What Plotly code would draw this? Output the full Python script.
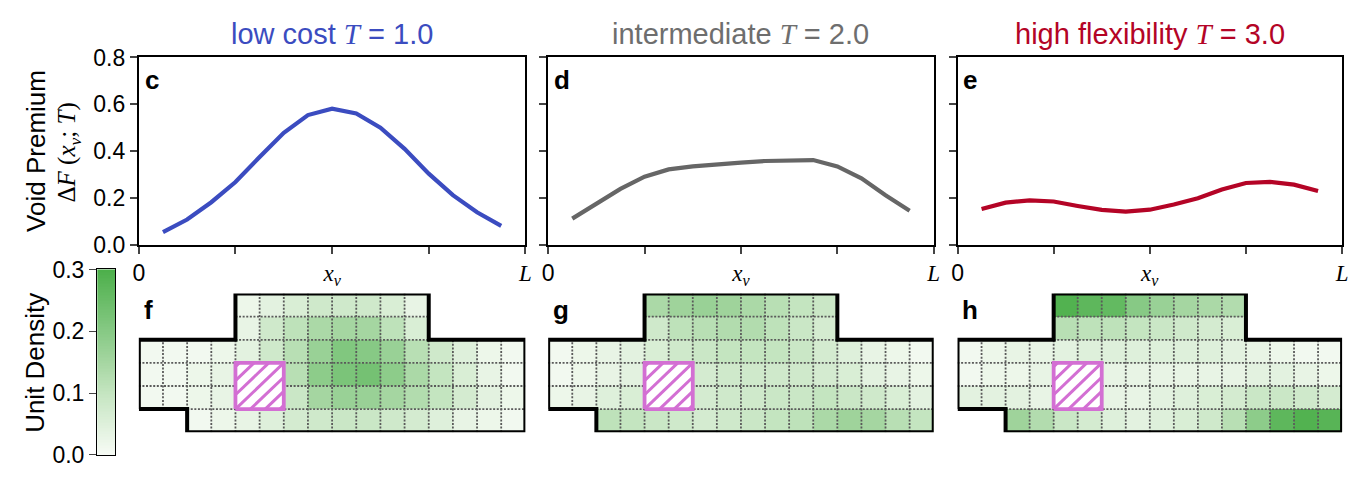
import numpy as np
import plotly.graph_objects as go

W, H = 1358, 484

# ---------------- data ----------------
x_void = [k / 16 for k in range(1, 16)]
premium_low = [0.054, 0.108, 0.182, 0.268, 0.375, 0.478, 0.554, 0.581, 0.561, 0.500, 0.410, 0.304, 0.212, 0.139, 0.081]
premium_mid = [0.112, 0.176, 0.239, 0.291, 0.322, 0.335, 0.345, 0.351, 0.358, 0.362, 0.362, 0.335, 0.284, 0.212, 0.146]
premium_high = [0.153, 0.180, 0.190, 0.185, 0.166, 0.149, 0.142, 0.150, 0.172, 0.199, 0.236, 0.264, 0.269, 0.257, 0.230]

SERIF = "Liberation Serif, DejaVu Serif, serif"
titles = [f"low cost <span style='font-family:{SERIF}'><i>T</i></span> = 1.0",
          f"intermediate <span style='font-family:{SERIF}'><i>T</i></span> = 2.0",
          f"high flexibility <span style='font-family:{SERIF}'><i>T</i></span> = 3.0"]
title_colors = ["#3b4cc0", "#6e6e6e", "#b40426"]
line_colors = ["#3b4cc0", "#666666", "#b40426"]
top_letters = ["c", "d", "e"]
bottom_letters = ["f", "g", "h"]
x_tick_vals = [0, 0.25, 0.5, 0.75, 1.0]
x_tick_text = ["0", "", f"<span style='font-family:{SERIF}'><i>x<sub>v</sub></i></span>", "",
               f"<span style='font-family:{SERIF}'><i>L</i></span>"]
y_tick_vals = [0.0, 0.2, 0.4, 0.6, 0.8]
cbar_ticks = [0.0, 0.1, 0.2, 0.3]

N = None
# rows listed top to bottom, 16 columns; None = outside the floor plan / void
density_low = [
    [N, N, N, N, 0.02, 0.04, 0.06, 0.08, 0.08, 0.08, 0.06, 0.03, N, N, N, N],
    [N, N, N, N, 0.03, 0.08, 0.11, 0.14, 0.15, 0.15, 0.11, 0.06, N, N, N, N],
    [0.01, 0.01, 0.01, 0.02, 0.04, 0.08, 0.12, 0.17, 0.21, 0.20, 0.17, 0.12, 0.08, 0.05, 0.02, 0.01],
    [0.01, 0.01, 0.02, 0.03, N, N, 0.12, 0.19, 0.22, 0.23, 0.19, 0.14, 0.10, 0.06, 0.03, 0.01],
    [0.01, 0.01, 0.02, 0.03, N, N, 0.09, 0.15, 0.17, 0.17, 0.15, 0.13, 0.10, 0.07, 0.04, 0.02],
    [N, N, 0.01, 0.02, 0.03, 0.05, 0.07, 0.08, 0.09, 0.09, 0.08, 0.07, 0.05, 0.03, 0.02, 0.01],
]
density_mid = [
    [N, N, N, N, 0.14, 0.16, 0.17, 0.16, 0.14, 0.12, 0.10, 0.09, N, N, N, N],
    [N, N, N, N, 0.08, 0.11, 0.12, 0.13, 0.13, 0.11, 0.09, 0.07, N, N, N, N],
    [0.01, 0.02, 0.03, 0.04, 0.06, 0.08, 0.09, 0.10, 0.10, 0.10, 0.09, 0.07, 0.05, 0.03, 0.02, 0.01],
    [0.01, 0.02, 0.03, 0.04, N, N, 0.07, 0.08, 0.08, 0.08, 0.08, 0.07, 0.06, 0.04, 0.03, 0.02],
    [0.02, 0.03, 0.05, 0.06, N, N, 0.07, 0.08, 0.08, 0.09, 0.09, 0.10, 0.09, 0.08, 0.06, 0.04],
    [N, N, 0.11, 0.10, 0.09, 0.08, 0.07, 0.08, 0.09, 0.10, 0.11, 0.14, 0.16, 0.15, 0.12, 0.10],
]
density_high = [
    [N, N, N, N, 0.29, 0.27, 0.26, 0.20, 0.17, 0.15, 0.14, 0.13, N, N, N, N],
    [N, N, N, N, 0.12, 0.11, 0.11, 0.10, 0.09, 0.08, 0.07, 0.06, N, N, N, N],
    [0.01, 0.02, 0.03, 0.03, 0.04, 0.05, 0.05, 0.05, 0.05, 0.05, 0.05, 0.04, 0.03, 0.02, 0.01, 0.01],
    [0.01, 0.02, 0.02, 0.03, N, N, 0.03, 0.03, 0.03, 0.03, 0.03, 0.03, 0.04, 0.04, 0.03, 0.02],
    [0.04, 0.04, 0.04, 0.03, N, N, 0.03, 0.03, 0.04, 0.05, 0.06, 0.07, 0.09, 0.09, 0.08, 0.07],
    [N, N, 0.16, 0.13, 0.09, 0.07, 0.05, 0.04, 0.05, 0.06, 0.08, 0.12, 0.19, 0.27, 0.29, 0.28],
]
premiums = [premium_low, premium_mid, premium_high]
densities = [density_low, density_mid, density_high]

# floor plan geometry (grid units, y upward)
outline_x = [0, 2, 2, 16, 16, 12, 12, 4, 4, 0, 0]
outline_y = [1, 1, 0, 0, 4, 4, 6, 6, 4, 4, 1]
void_x0, void_y0, void_size = 4, 1, 2
void_x = [4, 6, 6, 4, 4]
void_y = [1, 1, 3, 3, 1]
hatch_offsets = [-1.84, -1.23, -0.62, 0.0, 0.62, 1.23, 1.84]
# interior dotted grid lines: (x, y0, y1) and (y, x0, x1)
vgrid = [(1, 1, 4), (2, 1, 4), (3, 0, 4), (4, 0, 4), (5, 0, 6), (6, 0, 6), (7, 0, 6), (8, 0, 6),
         (9, 0, 6), (10, 0, 6), (11, 0, 6), (12, 0, 4), (13, 0, 4), (14, 0, 4), (15, 0, 4)]
hgrid = [(1, 2, 16), (2, 0, 16), (3, 0, 16), (4, 4, 12), (5, 4, 12)]

greens = [[0.0, "#f7fbf5"], [0.33, "#c5e5c1"], [0.5, "#a5d6a1"], [0.67, "#86c984"], [1.0, "#4caf4a"]]
ZMAX = 0.3
VOID_COLOR = "#d36fd3"

# ---------------- layout geometry (pixels) ----------------
panel_x = [(134, 524), (547, 936), (960, 1348)]
top_y = (47, 245)
bot_y = (296.5, 443)
cbar_x = (92, 110)
cbar_y = (271, 467)


def fx(p):
    return p / W


def fy(p):
    return 1 - p / H


# hatch segments inside the void square (slope 1)
hatch_x, hatch_y = [], []
for d in hatch_offsets:
    u0, u1 = max(0.0, -d), min(float(void_size), void_size - d)
    hatch_x += [void_x0 + u0, void_x0 + u1, None]
    hatch_y += [void_y0 + u0 + d, void_y0 + u1 + d, None]

FONT = "Liberation Sans, Arial, Helvetica, sans-serif"
fig = go.Figure()
layout = dict(width=W, height=H, margin=dict(l=0, r=0, t=0, b=0),
              paper_bgcolor="white", plot_bgcolor="rgba(0,0,0,0)",
              showlegend=False, font=dict(family=FONT, size=23, color="black"))
annotations = []
GRID_LINE = dict(color="#5a5a5a", width=1.8, dash="2px,1.6px")

for i in range(3):
    xa = "x" if i == 0 else f"x{i+1}"
    ya = "y" if i == 0 else f"y{i+1}"
    kx = "xaxis" if i == 0 else f"xaxis{i+1}"
    ky = "yaxis" if i == 0 else f"yaxis{i+1}"
    fig.add_trace(go.Scatter(x=x_void, y=premiums[i], mode="lines",
                             line=dict(color=line_colors[i], width=4.2), xaxis=xa, yaxis=ya))
    layout[kx] = dict(domain=[fx(panel_x[i][0]), fx(panel_x[i][1])], range=[0, 1],
                      tickvals=x_tick_vals, ticktext=x_tick_text, ticks="outside", ticklen=7,
                      tickwidth=1.6, showline=True, linewidth=2, linecolor="black", mirror=True,
                      showgrid=False, zeroline=False, anchor=ya, fixedrange=True,
                      tickfont=dict(size=23))
    layout[ky] = dict(domain=[fy(top_y[1]), fy(top_y[0])], range=[0, 0.8],
                      tickvals=y_tick_vals, ticktext=[f"{v:.1f}" for v in y_tick_vals],
                      showticklabels=(i == 0), ticks="outside", ticklen=7, tickwidth=1.6,
                      showline=True, linewidth=2, linecolor="black", mirror=True,
                      showgrid=False, zeroline=False, anchor=xa, tickfont=dict(size=23))
    cx = (panel_x[i][0] + panel_x[i][1]) / 2
    annotations.append(dict(x=fx(cx), y=fy(22), xref="paper", yref="paper", text=titles[i],
                            showarrow=False, font=dict(size=29, color=title_colors[i]),
                            xanchor="center", yanchor="middle"))
    annotations.append(dict(x=fx(panel_x[i][0] + 4), y=fy(71), xref="paper", yref="paper",
                            text=f"<b>{top_letters[i]}</b>", showarrow=False,
                            font=dict(size=26), xanchor="left", yanchor="middle"))

    # bottom heatmap panels
    j = i + 4
    xb, yb = f"x{j}", f"y{j}"
    z = densities[i][::-1]
    fig.add_trace(go.Heatmap(z=z, x=[c + 0.5 for c in range(16)], y=[r + 0.5 for r in range(6)],
                             colorscale=greens, zmin=0, zmax=ZMAX, showscale=False,
                             xaxis=xb, yaxis=yb, hoverongaps=False))
    for (gx, g0, g1) in vgrid:
        fig.add_trace(go.Scatter(x=[gx, gx], y=[g0, g1], mode="lines", line=GRID_LINE,
                                 xaxis=xb, yaxis=yb, hoverinfo="skip"))
    for (gy, g0, g1) in hgrid:
        fig.add_trace(go.Scatter(x=[g0, g1], y=[gy, gy], mode="lines", line=GRID_LINE,
                                 xaxis=xb, yaxis=yb, hoverinfo="skip"))
    fig.add_trace(go.Scatter(x=void_x, y=void_y, mode="lines", fill="toself",
                             fillcolor="white", line=dict(width=0),
                             xaxis=xb, yaxis=yb, hoverinfo="skip"))
    fig.add_trace(go.Scatter(x=hatch_x, y=hatch_y, mode="lines",
                             line=dict(color=VOID_COLOR, width=3),
                             xaxis=xb, yaxis=yb, hoverinfo="skip"))
    fig.add_trace(go.Scatter(x=void_x, y=void_y, mode="lines",
                             line=dict(color=VOID_COLOR, width=3.8),
                             xaxis=xb, yaxis=yb, hoverinfo="skip", cliponaxis=False))
    fig.add_trace(go.Scatter(x=outline_x, y=outline_y, mode="lines",
                             line=dict(color="black", width=4),
                             xaxis=xb, yaxis=yb, hoverinfo="skip", cliponaxis=False))
    layout[f"xaxis{j}"] = dict(domain=[fx(panel_x[i][0]), fx(panel_x[i][1])], range=[0, 16],
                               visible=False, anchor=yb, fixedrange=True)
    layout[f"yaxis{j}"] = dict(domain=[fy(bot_y[1]), fy(bot_y[0])], range=[0, 6],
                               visible=False, anchor=xb, fixedrange=True)
    annotations.append(dict(x=fx(panel_x[i][0] + 3), y=fy(314), xref="paper", yref="paper",
                            text=f"<b>{bottom_letters[i]}</b>", showarrow=False,
                            font=dict(size=26), xanchor="left", yanchor="middle"))

# colour bar built as its own small axis
cb_levels = np.linspace(0, ZMAX, 121)
fig.add_trace(go.Heatmap(z=[[v] for v in cb_levels], x=[0], y=cb_levels, colorscale=greens,
                         zmin=0, zmax=ZMAX, showscale=False, xaxis="x7", yaxis="y7"))
layout["xaxis7"] = dict(domain=[fx(cbar_x[0]), fx(cbar_x[1])], range=[-0.5, 0.5],
                        showticklabels=False, ticks="", showline=True, linewidth=1.3,
                        linecolor="black", mirror=True, showgrid=False, zeroline=False,
                        anchor="y7", fixedrange=True)
layout["yaxis7"] = dict(domain=[fy(cbar_y[1]), fy(cbar_y[0])], range=[0, ZMAX],
                        tickvals=cbar_ticks, ticktext=[f"{v:.1f}" for v in cbar_ticks],
                        ticks="outside", ticklen=7, tickwidth=1.4, showline=True, linewidth=1.3,
                        linecolor="black", mirror=True, showgrid=False, zeroline=False,
                        anchor="x7", side="left", tickfont=dict(size=23), fixedrange=True)

annotations.append(dict(x=fx(30), y=fy(146), xref="paper", yref="paper", text="Void Premium",
                        textangle=-90, showarrow=False, font=dict(size=26),
                        xanchor="center", yanchor="middle"))
annotations.append(dict(x=fx(63), y=fy(147), xref="paper", yref="paper",
                        text="Δ<i>F</i> (<i>x<sub>v</sub></i>; <i>T</i>)",
                        textangle=-90, showarrow=False, font=dict(size=25, family=SERIF),
                        xanchor="center", yanchor="middle"))
annotations.append(dict(x=fx(29), y=fy(370), xref="paper", yref="paper", text="Unit Density",
                        textangle=-90, showarrow=False, font=dict(size=26),
                        xanchor="center", yanchor="middle"))

layout["annotations"] = annotations
fig.update_layout(**layout)
fig.write_html("out.html", config={"displayModeBar": False},
               post_script="document.body.style.margin='0';document.body.style.overflow='hidden';")
